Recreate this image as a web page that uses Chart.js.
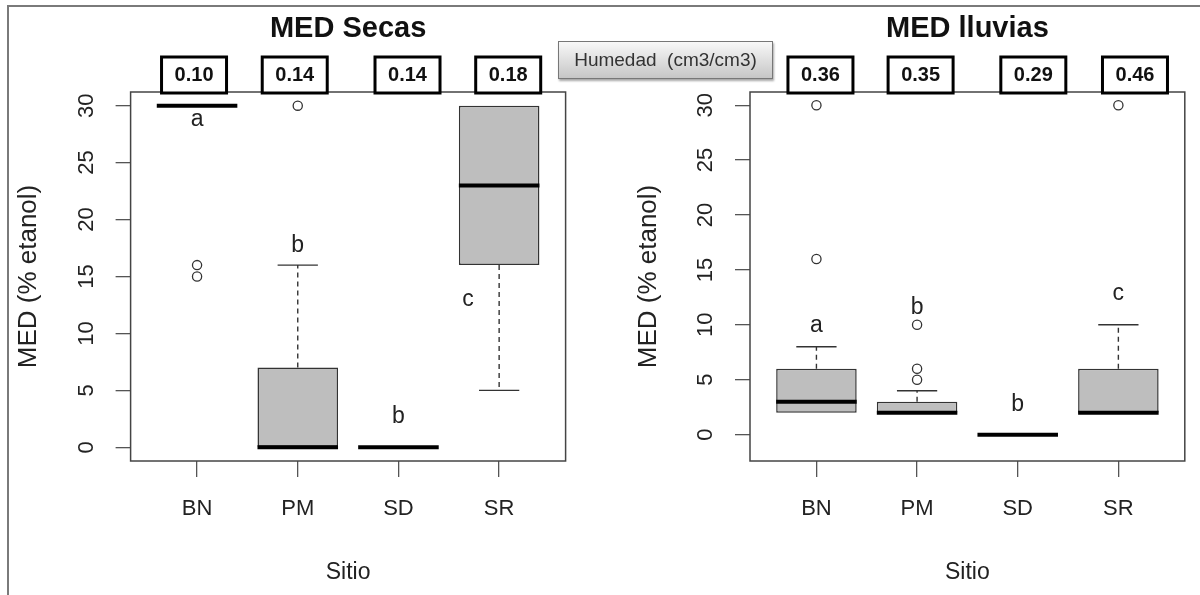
<!DOCTYPE html>
<html>
<head>
<meta charset="utf-8">
<script src="https://cdn.jsdelivr.net/npm/chart.js@4"></script>
<style>
  body { margin: 0; background: #fff; }
  #wrap { position: relative; width: 1200px; height: 595px; overflow: hidden; }
  canvas { position: absolute; top: 0; }
  #marco { position: absolute; left: 7px; top: 5px; width: 1200px; height: 600px;
    border-top: 2px solid #7a7a7a; border-left: 2px solid #7a7a7a; }
  #humedad { position: absolute; left: 558px; top: 41px; width: 213px; height: 36px;
    border: 1px solid #777; background: linear-gradient(#f8f8f8, #c6c6c6);
    box-shadow: 1px 2px 2px rgba(0,0,0,0.35); font: 19px "Liberation Sans", Arial, sans-serif;
    color: #333; text-align: center; line-height: 36px; white-space: pre; z-index: 5; }
</style>
</head>
<body>
<div id="wrap">
  <canvas id="secas" width="600" height="595" style="left:0"></canvas>
  <canvas id="lluvias" width="600" height="595" style="left:600px"></canvas>
  <div id="marco"></div>
  <div id="humedad">Humedad  (cm3/cm3)</div>
</div>
<script>
  'use strict';

  var sitios = ['BN', 'PM', 'SD', 'SR'];
  var yTicks = [0, 5, 10, 15, 20, 25, 30];

  // MED Secas
  var secasQ1 = [30, 0, 0, 16];
  var secasMed = [30, 0, 0, 23];
  var secasQ3 = [30, 7, 0, 30];
  var secasLo = [30, 0, 0, 5];
  var secasHi = [30, 16, 0, 30];
  var secasOut = [[15, 16], [30], [], []];
  var secasHum = ['0.10', '0.14', '0.14', '0.18'];
  var secasLetras = ['a', 'b', 'b', 'c'];
  var secasLetraY = [28.8, 17.7, 2.7, 13];

  // MED lluvias
  var lluviasQ1 = [2, 2, 0, 2];
  var lluviasMed = [3, 2, 0, 2];
  var lluviasQ3 = [6, 3, 0, 6];
  var lluviasLo = [2, 2, 0, 2];
  var lluviasHi = [8, 4, 0, 10];
  var lluviasOut = [[16, 30], [5, 6, 10], [], [30]];
  var lluviasHum = ['0.36', '0.35', '0.29', '0.46'];
  var lluviasLetras = ['a', 'b', 'b', 'c'];
  var lluviasLetraY = [9.9, 11.6, 2.75, 12.8];

  var FONT = '"Liberation Sans", Arial, sans-serif';

  //plugin that draws whiskers, medians, the box around the plot and the notes
  function panelPlugin(p) {
    return {
      id: 'panel_' + p.id,
      afterDatasetsDraw: function (chart) {
        var ctx = chart.ctx, x = chart.scales.x, y = chart.scales.y;
        var half = x.getPixelForValue(1.4) - x.getPixelForValue(1);
        ctx.save();
        for (var i = 0; i < sitios.length; i++) {
          var cx = x.getPixelForValue(i + 1);
          ctx.strokeStyle = '#333';
          ctx.lineWidth = 1.4;
          [[p.q3[i], p.hi[i]], [p.q1[i], p.lo[i]]].forEach(function (w) {
            if (w[0] === w[1]) return;
            var y0 = y.getPixelForValue(w[0]), y1 = y.getPixelForValue(w[1]);
            ctx.setLineDash([5, 4]);
            ctx.beginPath(); ctx.moveTo(cx, y0); ctx.lineTo(cx, y1); ctx.stroke();
            ctx.setLineDash([]);
            ctx.beginPath(); ctx.moveTo(cx - half / 2, y1); ctx.lineTo(cx + half / 2, y1); ctx.stroke();
          });
          var ym = y.getPixelForValue(p.med[i]);
          ctx.strokeStyle = '#000';
          ctx.lineWidth = 4;
          ctx.beginPath(); ctx.moveTo(cx - half, ym); ctx.lineTo(cx + half, ym); ctx.stroke();
        }
        ctx.restore();
      },
      afterDraw: function (chart) {
        var ctx = chart.ctx, x = chart.scales.x, y = chart.scales.y, ca = chart.chartArea;
        ctx.save();
        // box around plot
        ctx.strokeStyle = '#444';
        ctx.lineWidth = 1.5;
        ctx.strokeRect(ca.left, ca.top, ca.right - ca.left, ca.bottom - ca.top);

        // y tick labels, rotated like R
        ctx.fillStyle = '#222';
        ctx.font = '22px ' + FONT;
        ctx.textAlign = 'center';
        ctx.textBaseline = 'middle';
        yTicks.forEach(function (v) {
          ctx.save();
          ctx.translate(ca.left - 44, y.getPixelForValue(v));
          ctx.rotate(-Math.PI / 2);
          ctx.fillText(String(v), 0, 0);
          ctx.restore();
        });

        // letters
        ctx.font = '23px ' + FONT;
        for (var i = 0; i < sitios.length; i++) {
          ctx.fillText(p.letras[i], x.getPixelForValue(p.letraX[i]), y.getPixelForValue(p.letraY[i]));
        }

        // humidity boxes
        for (var j = 0; j < sitios.length; j++) {
          var cx = x.getPixelForValue(j + 1 + p.humDx[j]);
          ctx.fillStyle = '#fff';
          ctx.fillRect(cx - 32.5, ca.top - 35, 65, 36);
          ctx.strokeStyle = '#000';
          ctx.lineWidth = 3;
          ctx.strokeRect(cx - 32.5, ca.top - 35, 65, 36);
          ctx.fillStyle = '#111';
          ctx.font = 'bold 20px ' + FONT;
          ctx.fillText(p.hum[j], cx, ca.top - 16.5);
        }

        // title
        ctx.fillStyle = '#111';
        ctx.font = 'bold 29px ' + FONT;
        ctx.fillText(p.titulo, (ca.left + ca.right) / 2, 29);
        ctx.restore();
      }
    };
  }

  function makeChart(canvasId, p) {
    var outliers = [];
    p.out.forEach(function (vals, i) {
      vals.forEach(function (v) { outliers.push({x: i + 1, y: v}); });
    });

    return new Chart(document.getElementById(canvasId), {
      type: 'bar',
      data: {
        datasets: [{
          type: 'bar',
          data: sitios.map(function (s, i) { return {x: i + 1, y: [p.q1[i], p.q3[i]]}; }),
          backgroundColor: '#bebebe',
          borderColor: '#333',
          borderWidth: 1.5,
          borderSkipped: false,
          barPercentage: 1,
          categoryPercentage: 0.8
        }, {
          type: 'scatter',
          data: outliers,
          pointStyle: 'circle',
          pointRadius: 4.6,
          backgroundColor: 'rgba(0,0,0,0)',
          borderColor: '#333',
          borderWidth: 1.3
        }]
      },
      options: {
        responsive: false,
        animation: false,
        events: [],
        layout: {padding: {top: 92, right: p.padRight, left: 0, bottom: 0}},
        plugins: {legend: {display: false}, tooltip: {enabled: false}, title: {display: false}},
        scales: {
          x: {
            type: 'linear',
            min: 0.34,
            max: 4.66,
            offset: false,
            afterBuildTicks: function (s) { s.ticks = sitios.map(function (n, i) { return {value: i + 1}; }); },
            afterFit: function (s) { s.height = 134; },
            ticks: {
              autoSkip: false, maxRotation: 0, padding: 19, color: '#222',
              font: {family: FONT, size: 22},
              callback: function (v) { return sitios[v - 1]; }
            },
            grid: {offset: false, drawOnChartArea: false, tickLength: 16, color: '#555', lineWidth: 1.3},
            border: {display: false},
            title: {display: true, text: 'Sitio', color: '#222', font: {family: FONT, size: 23}, padding: {top: 0, bottom: 9}}
          },
          y: {
            type: 'linear',
            min: p.yMin,
            max: 31.2,
            afterBuildTicks: function (s) { s.ticks = yTicks.map(function (v) { return {value: v}; }); },
            afterFit: function (s) { s.width = p.axisWidth; },
            ticks: {display: false},
            grid: {drawOnChartArea: false, tickLength: 15, color: '#555', lineWidth: 1.3},
            border: {display: false},
            title: {display: true, text: 'MED (% etanol)', color: '#222', font: {family: FONT, size: 26}, padding: {top: p.titlePad, bottom: 0}}
          }
        }
      },
      plugins: [panelPlugin(p)]
    });
  }

  makeChart('secas', {
    id: 'secas', titulo: 'MED Secas',
    q1: secasQ1, med: secasMed, q3: secasQ3, lo: secasLo, hi: secasHi, out: secasOut,
    hum: secasHum, humDx: [-0.03, -0.03, 0.09, 0.09],
    letras: secasLetras, letraX: [1, 2, 3, 3.69], letraY: secasLetraY,
    yMin: -1.2, axisWidth: 130.6, padRight: 34.4, titlePad: 13
  });

  makeChart('lluvias', {
    id: 'lluvias', titulo: 'MED lluvias',
    q1: lluviasQ1, med: lluviasMed, q3: lluviasQ3, lo: lluviasLo, hi: lluviasHi, out: lluviasOut,
    hum: lluviasHum, humDx: [0.04, 0.035, 0.155, 0.165],
    letras: lluviasLetras, letraX: [1, 2, 3, 4], letraY: lluviasLetraY,
    yMin: -2.4, axisWidth: 150, padRight: 15.2, titlePad: 33
  });
</script>
</body>
</html>
